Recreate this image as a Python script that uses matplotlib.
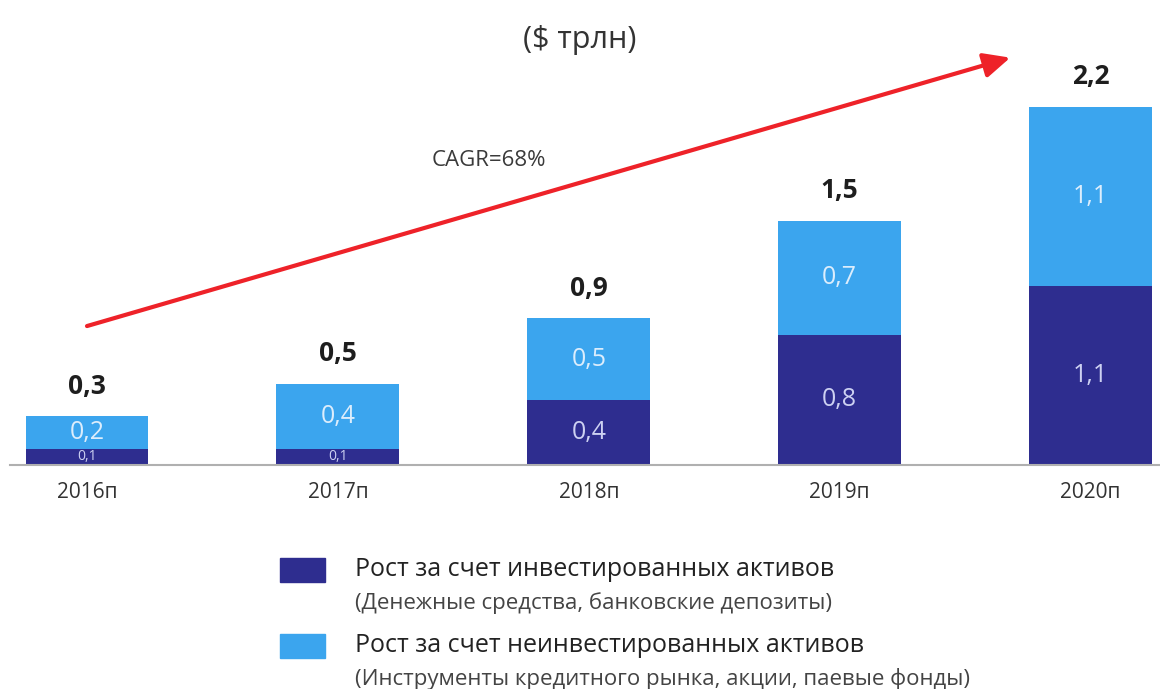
import matplotlib.pyplot as plt

# Data: growth of assets, $ trillion
years = ['2016п', '2017п', '2018п', '2019п', '2020п']
invested = [0.1, 0.1, 0.4, 0.8, 1.1]
uninvested = [0.2, 0.4, 0.5, 0.7, 1.1]
totals = [0.3, 0.5, 0.9, 1.5, 2.2]
cagr_label = 'CAGR=68%'

legend_titles = ['Рост за счет инвестированных активов',
                 'Рост за счет неинвестированных активов']
legend_notes = ['(Денежные средства, банковские депозиты)',
                '(Инструменты кредитного рынка, акции, паевые фонды)']

dark = '#2e2d8f'
light = '#3ba5ee'
plt.rcParams['font.family'] = ['Open Sans', 'DejaVu Sans']

fig = plt.figure(figsize=(11.6, 6.89), dpi=100)
ax = fig.add_axes([0.0086, 0.325, 0.991, 0.615])

x = list(range(len(years)))
ax.bar(x, invested, width=0.49, color=dark)
ax.bar(x, uninvested, width=0.49, bottom=invested, color=light)

def fmt(v):
    return f'{v:.1f}'.replace('.', ',')

for i in x:
    small = invested[i] < 0.2
    ax.text(i, invested[i] / 2, fmt(invested[i]), ha='center', va='center',
            color='#cdd1f2', fontsize=10 if small else 18)
    ax.text(i, invested[i] + uninvested[i] / 2, fmt(uninvested[i]),
            ha='center', va='center', color='#dcedfc', fontsize=18)
    ax.text(i, totals[i] + 0.1, fmt(totals[i]), ha='center', va='bottom',
            color='#1e1e1e', fontsize=19, fontweight='bold')

# growth trend arrow
ax.annotate('', xy=(3.68, 2.5), xytext=(0, 0.853),
            arrowprops=dict(arrowstyle='-|>,head_length=1.6,head_width=0.75',
                            color='#ee2229', lw=3, shrinkA=0, shrinkB=0))
ax.text(1.6, 1.87, cagr_label, ha='center', va='center', color='#3a3a3a',
        fontsize=16)

ax.set_xlim(-0.307, 4.275)
ax.set_ylim(0, 2.6)
ax.set_xticks(x)
ax.set_xticklabels(years, fontsize=15, color='#333333')
ax.tick_params(axis='x', length=0, pad=12)
ax.set_yticks([])
for side in ['top', 'right', 'left']:
    ax.spines[side].set_visible(False)
ax.spines['bottom'].set_color('#b0b0b0')
ax.spines['bottom'].set_linewidth(1.5)

fig.text(0.5, 0.942, '($ трлн)', ha='center', va='center', fontsize=22,
         color='#333333')

# legend drawn by hand: coloured square, title and note
for k, (col, title, note) in enumerate(zip([dark, light], legend_titles, legend_notes)):
    top = 558 + 76 * k
    fig.patches.append(plt.Rectangle((280 / 1160, 1 - (top + 24) / 689),
                                     45 / 1160, 24 / 689,
                                     transform=fig.transFigure, color=col))
    fig.text(355 / 1160, 1 - (top + 12) / 689, title, ha='left', va='center',
             fontsize=18, color='#222222')
    fig.text(355 / 1160, 1 - (top + 45) / 689, note, ha='left', va='center',
             fontsize=16, color='#444444')

fig.savefig('out.png', dpi=100, facecolor='white')
